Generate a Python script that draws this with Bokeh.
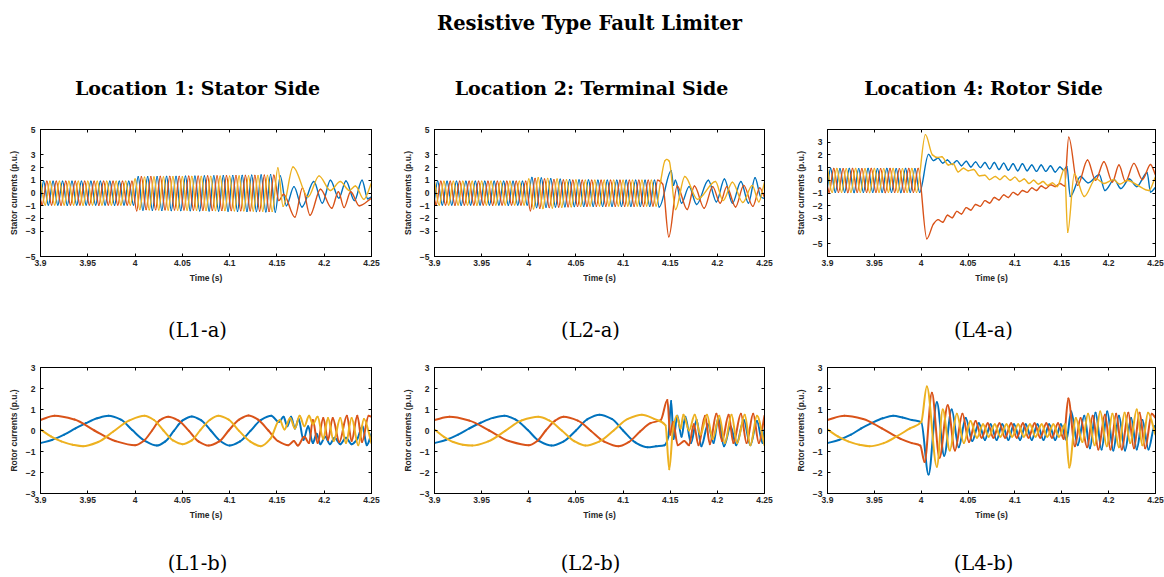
from bokeh.plotting import figure
from bokeh.layouts import column, row
from bokeh.models import Range1d, FixedTicker, LinearAxis, CustomJSTickFormatter
from bokeh.core.properties import value
from bokeh.embed import file_html
from bokeh.resources import INLINE

BLUE = "#0072BD"
ORANGE = "#D95319"
YELLOW = "#EDB120"

X_TICKS = [3.9, 3.95, 4.0, 4.05, 4.1, 4.15, 4.2, 4.25]
STATOR_Y_TICKS = [-5, -3, -2, -1, 0, 1, 2, 3, 5]
STATOR4_Y_TICKS = [-5, -3, -2, -1, 0, 1, 2, 3]
ROTOR_Y_TICKS = [-3, -2, -1, 0, 1, 2, 3]

MAIN_TITLE = "Resistive Type Fault Limiter"
COL_TITLES = ["Location 1: Stator Side", "Location 2: Terminal Side", "Location 4: Rotor Side"]
CAPTIONS_A = ["(L1-a)", "(L2-a)", "(L4-a)"]
CAPTIONS_B = ["(L1-b)", "(L2-b)", "(L4-b)"]

# ---- stator currents, common pre-fault part (3.90 - 4.00 s): extrema
PRE_Y_T = [3.900, 3.905, 3.910, 3.915, 3.920, 3.925, 3.930, 3.935, 3.940, 3.945,
           3.950, 3.955, 3.960, 3.965, 3.970, 3.975, 3.980, 3.985, 3.990, 3.995]
PRE_Y_V = [0.92, -0.95, 0.93, -0.95, 0.92, -0.95, 0.93, -0.95, 0.92, -0.96,
           0.93, -0.95, 0.92, -0.95, 0.93, -0.95, 0.92, -0.95, 0.93, -0.95]
PRE_B_T = [3.900, 3.9033, 3.9083, 3.9133, 3.9183, 3.9233, 3.9283, 3.9333, 3.9383, 3.9433,
           3.9483, 3.9533, 3.9583, 3.9633, 3.9683, 3.9733, 3.9783, 3.9833, 3.9883, 3.9933, 3.9983]
PRE_B_V = [-0.50, 0.93, -0.95, 0.92, -0.95, 0.93, -0.96, 0.92, -0.95, 0.93,
           -0.95, 0.92, -0.95, 0.93, -0.95, 0.92, -0.96, 0.93, -0.95, 0.92, -0.95]
PRE_O_T = [3.900, 3.9017, 3.9067, 3.9117, 3.9167, 3.9217, 3.9267, 3.9317, 3.9367, 3.9417,
           3.9467, 3.9517, 3.9567, 3.9617, 3.9667, 3.9717, 3.9767, 3.9817, 3.9867, 3.9917, 3.9967]
PRE_O_V = [-0.50, -0.95, 0.93, -0.95, 0.92, -0.96, 0.93, -0.95, 0.92, -0.95,
           0.93, -0.95, 0.92, -0.96, 0.93, -0.95, 0.92, -0.95, 0.93, -0.95, 0.93]

# ---- L1-a (stator currents, location 1) after 4.00 s
L1A_Y_T = [4.000, 4.005, 4.010, 4.015, 4.020, 4.025, 4.030, 4.035, 4.040, 4.045,
           4.050, 4.055, 4.060, 4.065, 4.070, 4.075, 4.080, 4.085, 4.090, 4.095,
           4.100, 4.105, 4.110, 4.115, 4.120, 4.125, 4.130, 4.135, 4.140, 4.145,
           4.151, 4.1565, 4.167, 4.183, 4.1945, 4.2065, 4.217, 4.2265, 4.233, 4.242, 4.250]
L1A_Y_V = [1.10, -1.30, 1.25, -1.32, 1.26, -1.33, 1.27, -1.34, 1.28, -1.35,
           1.28, -1.35, 1.30, -1.36, 1.30, -1.37, 1.31, -1.38, 1.32, -1.38,
           1.33, -1.40, 1.34, -1.40, 1.35, -1.42, 1.36, -1.43, 1.38, -1.45,
           1.97, -1.05, 2.05, -0.30, 1.35, 0.20, 0.90, 0.20, 0.55, -0.50, 0.80]
L1A_B_T = [4.0033, 4.0083, 4.0133, 4.0183, 4.0233, 4.0283, 4.0333, 4.0383, 4.0433, 4.0483,
           4.0533, 4.0583, 4.0633, 4.0683, 4.0733, 4.0783, 4.0833, 4.0883, 4.0933, 4.0983,
           4.1033, 4.1083, 4.1133, 4.1183, 4.1233, 4.1283, 4.1333, 4.1383, 4.1433, 4.1483,
           4.1535, 4.1600, 4.1680, 4.1765, 4.1890, 4.1980, 4.2065, 4.2155, 4.2230, 4.2320,
           4.2400, 4.2460, 4.2500]
L1A_B_V = [1.28, -1.35, 1.28, -1.36, 1.29, -1.37, 1.30, -1.38, 1.31, -1.38,
           1.32, -1.39, 1.33, -1.40, 1.34, -1.41, 1.35, -1.42, 1.36, -1.43,
           1.37, -1.44, 1.38, -1.45, 1.40, -1.46, 1.42, -1.48, 1.45, -1.50,
           1.35, -1.00, 0.50, -1.10, 0.90, -0.80, 1.00, -0.40, 0.95, -0.60,
           1.00, -0.45, -0.30]
L1A_O_T = [4.0017, 4.0067, 4.0117, 4.0167, 4.0217, 4.0267, 4.0317, 4.0367, 4.0417, 4.0467,
           4.0517, 4.0567, 4.0617, 4.0667, 4.0717, 4.0767, 4.0817, 4.0867, 4.0917, 4.0967,
           4.1017, 4.1067, 4.1117, 4.1167, 4.1217, 4.1267, 4.1317, 4.1367, 4.1417, 4.1467,
           4.1520, 4.1570, 4.1690, 4.1770, 4.1850, 4.1960, 4.2080, 4.2150, 4.2210, 4.2280,
           4.2370, 4.2500]
L1A_O_V = [-1.40, 1.28, -1.30, 1.29, -1.31, 1.30, -1.32, 1.31, -1.33, 1.31,
           -1.33, 1.32, -1.34, 1.33, -1.35, 1.34, -1.36, 1.35, -1.37, 1.36,
           -1.38, 1.37, -1.39, 1.38, -1.40, 1.39, -1.42, 1.40, -1.45, 1.40,
           -0.60, -0.10, -1.90, 0.40, -1.75, 0.30, -1.20, 0.10, -1.15, 0.10,
           -1.00, -0.40]

# ---- L2-a (stator currents, location 2) after 4.00 s
L2A_Y_T = [4.000, 4.005, 4.010, 4.015, 4.020, 4.025, 4.030, 4.035, 4.040, 4.045,
           4.050, 4.055, 4.060, 4.065, 4.070, 4.075, 4.080, 4.085, 4.090, 4.095,
           4.100, 4.105, 4.110, 4.115, 4.120, 4.125, 4.130, 4.135, 4.140,
           4.1445, 4.1465, 4.1490, 4.1556, 4.1655, 4.1790, 4.1980, 4.2060, 4.2160, 4.2270,
           4.2370, 4.2440, 4.2500]
L2A_Y_V = [1.10, -1.25, 1.20, -1.22, 1.15, -1.18, 1.10, -1.12, 1.05, -1.08,
           1.02, -1.05, 1.00, -1.03, 1.00, -1.02, 1.00, -1.02, 1.00, -1.02,
           1.00, -1.02, 1.00, -1.02, 1.00, -1.02, 1.00, -1.02, 1.00,
           2.55, 2.65, 2.50, -1.30, 1.30, -0.50, 0.90, -0.60, 0.85, -0.75,
           0.60, -0.70, 0.85]
L2A_B_T = [4.0033, 4.0083, 4.0133, 4.0183, 4.0233, 4.0283, 4.0333, 4.0383, 4.0433, 4.0483,
           4.0533, 4.0583, 4.0633, 4.0683, 4.0733, 4.0783, 4.0833, 4.0883, 4.0933, 4.0983,
           4.1033, 4.1083, 4.1133, 4.1183, 4.1233, 4.1283, 4.1333, 4.1383,
           4.1510, 4.1535, 4.1555, 4.1620, 4.1700, 4.1780, 4.1905, 4.1990, 4.2075, 4.2160,
           4.2250, 4.2330, 4.2400, 4.2460, 4.2500]
L2A_B_V = [1.22, -1.15, 1.18, -1.12, 1.12, -1.10, 1.08, -1.08, 1.05, -1.06,
           1.03, -1.05, 1.02, -1.05, 1.00, -1.05, 1.00, -1.05, 1.00, -1.05,
           1.00, -1.05, 1.00, -1.05, 1.00, -1.05, 1.00, -1.10,
           1.75, 0.60, 1.00, -0.80, 0.50, -0.90, 1.00, -0.70, 1.10, -0.80,
           0.90, -0.80, 1.20, -0.30, -0.45]
L2A_O_T = [4.0017, 4.0067, 4.0117, 4.0167, 4.0217, 4.0267, 4.0317, 4.0367, 4.0417, 4.0467,
           4.0517, 4.0567, 4.0617, 4.0667, 4.0717, 4.0767, 4.0817, 4.0867, 4.0917, 4.0967,
           4.1017, 4.1067, 4.1117, 4.1167, 4.1217, 4.1267, 4.1317, 4.1367,
           4.1420, 4.1485, 4.1574, 4.1680, 4.1757, 4.1860, 4.1950, 4.2030, 4.2100, 4.2193,
           4.2280, 4.2376, 4.2450, 4.2500]
L2A_O_V = [-1.40, 1.15, -1.20, 1.10, -1.15, 1.05, -1.10, 1.02, -1.08, 1.00,
           -1.05, 1.00, -1.05, 1.00, -1.04, 1.00, -1.04, 1.00, -1.04, 1.00,
           -1.04, 1.00, -1.04, 1.00, -1.04, 1.00, -1.03, 1.00,
           0.70, -3.45, 0.55, -1.30, 0.55, -1.20, 0.50, -0.80, 0.50, -1.10,
           0.60, -1.05, 0.40, -0.35]

# ---- L4-a (stator currents, location 4) after 4.00 s
L4A_Y_T = [4.0045, 4.0120, 4.0170, 4.0220, 4.0290, 4.0340, 4.0395, 4.0450, 4.0500, 4.0560,
           4.0620, 4.0680, 4.0730, 4.0790, 4.0840, 4.0890, 4.0950, 4.1000, 4.1050, 4.1100,
           4.1150, 4.1200, 4.1250, 4.1300, 4.1350, 4.1400, 4.1450, 4.1530, 4.1563, 4.1634,
           4.1740, 4.1864, 4.1950, 4.2050, 4.2120, 4.2200, 4.2300, 4.2430, 4.2500]
L4A_Y_V = [3.60, 2.00, 1.80, 1.85, 1.20, 1.30, 0.66, 0.95, 0.75, 0.85,
           0.35, 0.40, 0.05, 0.30, 0.05, 0.35, 0.00, 0.25, -0.10, 0.10,
           -0.25, 0.00, -0.30, -0.10, -0.40, -0.20, -0.50, 0.90, -4.10, 0.50,
           -1.27, 0.13, -0.25, 0.05, -0.30, 0.00, -0.35, -0.80, 0.30]
L4A_B_T = [4.0078, 4.0130, 4.0180, 4.0230, 4.0280, 4.0330, 4.0380, 4.0430, 4.0480, 4.0530,
           4.0580, 4.0630, 4.0680, 4.0730, 4.0780, 4.0830, 4.0880, 4.0930, 4.0980, 4.1030,
           4.1080, 4.1130, 4.1180, 4.1230, 4.1280, 4.1330, 4.1380, 4.1430, 4.1480, 4.1520,
           4.1555, 4.1590, 4.1700, 4.1780, 4.1900, 4.1960, 4.2060, 4.2130, 4.2220, 4.2300,
           4.2410, 4.2447, 4.2500]
L4A_B_V = [2.04, 1.55, 1.75, 1.35, 1.60, 1.25, 1.55, 1.15, 1.50, 1.05,
           1.45, 1.00, 1.40, 0.90, 1.40, 0.85, 1.35, 0.80, 1.30, 0.75,
           1.30, 0.75, 1.20, 0.70, 1.20, 0.70, 1.15, 0.65, 1.05, 0.80,
           1.10, -1.27, 0.30, -0.20, 0.45, -0.80, 0.05, -0.65, 0.10, -0.50,
           0.60, -0.93, -0.55]
L4A_O_T = [4.0060, 4.0130, 4.0180, 4.0230, 4.0280, 4.0330, 4.0380, 4.0430, 4.0480, 4.0530,
           4.0580, 4.0630, 4.0680, 4.0730, 4.0780, 4.0830, 4.0880, 4.0930, 4.0980, 4.1030,
           4.1080, 4.1130, 4.1180, 4.1230, 4.1280, 4.1330, 4.1380, 4.1430, 4.1480, 4.1530,
           4.1574, 4.1670, 4.1775, 4.1860, 4.1950, 4.2040, 4.2110, 4.2180, 4.2270, 4.2360,
           4.2447, 4.2500]
L4A_O_V = [-4.60, -3.45, -3.10, -3.30, -2.75, -2.95, -2.45, -2.65, -2.15, -2.35,
           -1.90, -2.05, -1.60, -1.80, -1.35, -1.55, -1.15, -1.35, -0.95, -1.15,
           -0.80, -0.95, -0.60, -0.80, -0.45, -0.65, -0.35, -0.50, -0.25, -0.45,
           3.40, -0.40, 1.60, 0.00, 1.46, -0.13, 1.20, -0.10, 1.33, 0.05,
           1.25, 0.40]

# ---- L1-b (rotor currents, location 1)
L1B_B_T = [3.900, 3.912, 3.925, 3.937, 3.948, 3.960, 3.972, 3.985, 3.997, 4.010,
           4.023, 4.032, 4.041, 4.050, 4.060, 4.070, 4.080, 4.090, 4.100, 4.111,
           4.122, 4.133, 4.144, 4.1520, 4.1570, 4.1610, 4.1650, 4.1690, 4.1730, 4.1780,
           4.1830, 4.1880, 4.1920, 4.1960, 4.2010, 4.2060, 4.2110, 4.2170, 4.2230, 4.2290,
           4.2350, 4.2405, 4.2450, 4.2500]
L1B_B_V = [-0.60, -0.45, -0.20, 0.10, 0.35, 0.58, 0.70, 0.52, 0.02, -0.48,
           -0.72, -0.52, -0.02, 0.47, 0.67, 0.48, 0.00, -0.50, -0.72, -0.52,
           -0.02, 0.50, 0.70, 0.40, 0.65, 0.20, 0.65, 0.10, 0.55, -0.45,
           0.20, -0.60, -0.15, -0.65, -0.30, -0.65, -0.35, -0.65, -0.35, -0.65,
           -0.40, 0.20, -0.70, -0.15]
L1B_O_T = [3.900, 3.915, 3.936, 3.957, 3.979, 4.000, 4.009, 4.018, 4.026, 4.035,
           4.046, 4.057, 4.067, 4.078, 4.089, 4.099, 4.110, 4.120, 4.130, 4.141,
           4.151, 4.162, 4.1680, 4.1720, 4.1790, 4.1840, 4.1880, 4.1930, 4.1990, 4.2040,
           4.2090, 4.2160, 4.2240, 4.2290, 4.2350, 4.2400, 4.2470, 4.2500]
L1B_O_V = [0.50, 0.70, 0.52, 0.00, -0.50, -0.70, -0.50, 0.00, 0.48, 0.65,
           0.47, -0.02, -0.52, -0.72, -0.52, 0.00, 0.52, 0.72, 0.52, 0.00,
           -0.50, -0.70, -0.50, -0.72, -0.30, -0.60, 0.50, -0.60, 0.60, -0.45,
           0.60, -0.55, 0.70, -0.50, 0.70, -0.55, 0.70, 0.65]
L1B_Y_T = [3.900, 3.911, 3.922, 3.934, 3.945, 3.961, 3.977, 3.994, 4.010, 4.020,
           4.030, 4.040, 4.050, 4.060, 4.069, 4.079, 4.088, 4.099, 4.110, 4.122,
           4.133, 4.143, 4.1530, 4.1580, 4.1640, 4.1690, 4.1740, 4.1790, 4.1840, 4.1880,
           4.1930, 4.1990, 4.2040, 4.2100, 4.2170, 4.2230, 4.2290, 4.2360, 4.2420, 4.2500]
L1B_Y_V = [0.05, -0.28, -0.52, -0.68, -0.75, -0.55, -0.05, 0.48, 0.70, 0.50,
           0.00, -0.47, -0.65, -0.47, 0.02, 0.50, 0.70, 0.52, -0.02, -0.53,
           -0.75, -0.40, 0.50, 0.05, 0.60, 0.10, 0.70, 0.20, 0.70, 0.30,
           0.65, -0.40, 0.60, -0.50, 0.60, -0.60, 0.60, -0.70, 0.55, -0.60]

# ---- L2-b (rotor currents, location 2)
L2B_B_T = [3.900, 3.912, 3.925, 3.937, 3.949, 3.962, 3.974, 3.986, 3.999, 4.011,
           4.024, 4.037, 4.050, 4.062, 4.075, 4.088, 4.100, 4.113, 4.126, 4.135,
           4.1440, 4.1480, 4.1510, 4.1535, 4.1575, 4.1620, 4.1660, 4.1720, 4.1780, 4.1830,
           4.1900, 4.1960, 4.2010, 4.2070, 4.2140, 4.2200, 4.2280, 4.2350, 4.2420, 4.2480,
           4.2500]
L2B_B_V = [-0.60, -0.45, -0.20, 0.10, 0.37, 0.60, 0.70, 0.52, 0.02, -0.50,
           -0.72, -0.52, 0.00, 0.53, 0.75, 0.55, 0.00, -0.57, -0.80, -0.75,
           -0.70, -0.30, 1.40, -0.40, 0.70, -0.30, 0.65, -0.60, 0.50, -0.75,
           0.30, -0.60, 0.60, -0.75, 0.20, -0.70, 0.50, -0.70, 0.45, -0.60,
           0.05]
L2B_O_T = [3.900, 3.916, 3.937, 3.958, 3.979, 4.000, 4.009, 4.018, 4.028, 4.037,
           4.052, 4.066, 4.080, 4.095, 4.106, 4.118, 4.129, 4.140, 4.1470, 4.1500,
           4.1530, 4.1580, 4.1650, 4.1700, 4.1750, 4.1800, 4.1870, 4.1920, 4.1990, 4.2050,
           4.2120, 4.2170, 4.2250, 4.2310, 4.2380, 4.2440, 4.2500]
L2B_O_V = [0.50, 0.65, 0.47, 0.00, -0.50, -0.70, -0.50, 0.00, 0.47, 0.65,
           0.47, -0.02, -0.53, -0.75, -0.55, -0.05, 0.35, 0.50, 1.45, -0.20,
           0.40, -0.70, -0.50, -0.70, 0.30, -0.70, 0.70, -0.65, 0.80, -0.50,
           0.75, -0.60, 0.80, -0.60, 0.80, -0.60, 0.70]
L2B_Y_T = [3.900, 3.910, 3.920, 3.930, 3.940, 3.957, 3.975, 3.992, 4.010, 4.022,
           4.035, 4.048, 4.060, 4.075, 4.090, 4.105, 4.120, 4.133, 4.1450, 4.1490,
           4.1530, 4.1570, 4.1610, 4.1640, 4.1700, 4.1760, 4.1820, 4.1890, 4.1950, 4.2020,
           4.2080, 4.2150, 4.2210, 4.2290, 4.2350, 4.2420, 4.2500]
L2B_Y_V = [0.05, -0.30, -0.55, -0.68, -0.72, -0.52, -0.02, 0.47, 0.65, 0.47,
           0.00, -0.50, -0.72, -0.52, 0.00, 0.55, 0.75, 0.55, 0.25, -1.85,
           0.10, 0.70, 0.10, 0.75, 0.00, 0.75, -0.20, 0.75, -0.40, 0.70,
           -0.60, 0.75, -0.60, 0.75, -0.70, 0.70, -0.70]

# ---- L4-b (rotor currents, location 4)
L4B_B_T = [3.900, 3.912, 3.925, 3.936, 3.947, 3.959, 3.970, 3.980, 3.990, 4.000,
           4.0078, 4.0167, 4.0245, 4.0325, 4.0400, 4.0475, 4.0545, 4.0615, 4.0680, 4.0740,
           4.0805, 4.0865, 4.0930, 4.0990, 4.1055, 4.1115, 4.1180, 4.1240, 4.1305, 4.1365,
           4.1430, 4.1490, 4.1550, 4.1600, 4.1670, 4.1740, 4.1800, 4.1860, 4.1925, 4.1985,
           4.2050, 4.2110, 4.2175, 4.2240, 4.2300, 4.2360, 4.2425, 4.2490, 4.2500]
L4B_B_V = [-0.60, -0.45, -0.20, 0.10, 0.35, 0.58, 0.70, 0.62, 0.50, 0.40,
           -2.10, 1.35, -1.20, 1.00, -0.80, 0.60, -0.50, 0.35, -0.45, 0.30,
           -0.45, 0.30, -0.45, 0.30, -0.45, 0.30, -0.45, 0.30, -0.45, 0.30,
           -0.45, 0.30, -0.45, 0.90, -0.70, 0.70, -0.85, 0.85, -0.90, 0.90,
           -0.95, 0.70, -0.95, 0.60, -0.90, 0.50, -0.90, 0.20, 0.10]
L4B_O_T = [3.900, 3.918, 3.938, 3.958, 3.978, 3.990, 3.999, 4.0036, 4.0114, 4.0195,
           4.0283, 4.0360, 4.0440, 4.0510, 4.0580, 4.0645, 4.0710, 4.0770, 4.0835, 4.0895,
           4.0960, 4.1020, 4.1085, 4.1145, 4.1210, 4.1270, 4.1335, 4.1395, 4.1460, 4.1520,
           4.1570, 4.1640, 4.1700, 4.1770, 4.1830, 4.1890, 4.1960, 4.2020, 4.2080, 4.2140,
           4.2210, 4.2270, 4.2330, 4.2390, 4.2460, 4.2500]
L4B_O_V = [0.50, 0.70, 0.55, 0.10, -0.40, -0.60, -0.72, -1.50, 1.80, -1.30,
           1.20, -0.95, 0.80, -0.55, 0.45, -0.35, 0.35, -0.35, 0.35, -0.35,
           0.35, -0.35, 0.35, -0.35, 0.35, -0.35, 0.35, -0.35, 0.35, -0.40,
           1.52, -0.75, 0.60, -0.80, 0.70, -0.90, 0.75, -0.90, 0.80, -0.90,
           0.85, -0.85, 0.85, -0.85, 0.80, 0.60]
L4B_Y_T = [3.900, 3.911, 3.922, 3.934, 3.945, 3.960, 3.975, 3.988, 4.000, 4.0060,
           4.0167, 4.0230, 4.0305, 4.0380, 4.0455, 4.0525, 4.0595, 4.0660, 4.0720, 4.0785,
           4.0845, 4.0910, 4.0970, 4.1035, 4.1095, 4.1160, 4.1220, 4.1285, 4.1345, 4.1410,
           4.1470, 4.1535, 4.1580, 4.1650, 4.1720, 4.1780, 4.1850, 4.1910, 4.1980, 4.2040,
           4.2110, 4.2170, 4.2230, 4.2300, 4.2360, 4.2420, 4.2500]
L4B_Y_V = [0.05, -0.28, -0.52, -0.68, -0.75, -0.60, -0.25, 0.10, 0.40, 2.10,
           -1.73, 1.00, -0.95, 0.80, -0.60, 0.45, -0.35, 0.30, -0.30, 0.30,
           -0.30, 0.30, -0.30, 0.30, -0.30, 0.30, -0.30, 0.30, -0.30, 0.30,
           -0.30, 0.30, -1.76, 0.60, -0.55, 0.80, -0.70, 0.90, -0.75, 0.80,
           -0.80, 0.85, -0.60, 1.00, -0.70, 0.85, -0.20]

STATOR_SERIES = [
    ((PRE_B_T + L1A_B_T, PRE_B_V + L1A_B_V), (PRE_O_T + L1A_O_T, PRE_O_V + L1A_O_V), (PRE_Y_T + L1A_Y_T, PRE_Y_V + L1A_Y_V)),
    ((PRE_B_T + L2A_B_T, PRE_B_V + L2A_B_V), (PRE_O_T + L2A_O_T, PRE_O_V + L2A_O_V), (PRE_Y_T + L2A_Y_T, PRE_Y_V + L2A_Y_V)),
    ((PRE_B_T + L4A_B_T, PRE_B_V + L4A_B_V), (PRE_O_T + L4A_O_T, PRE_O_V + L4A_O_V), (PRE_Y_T + L4A_Y_T, PRE_Y_V + L4A_Y_V)),
]
ROTOR_SERIES = [
    ((L1B_B_T, L1B_B_V), (L1B_O_T, L1B_O_V), (L1B_Y_T, L1B_Y_V)),
    ((L2B_B_T, L2B_B_V), (L2B_O_T, L2B_O_V), (L2B_Y_T, L2B_Y_V)),
    ((L4B_B_T, L4B_B_V), (L4B_O_T, L4B_O_V), (L4B_Y_T, L4B_Y_V)),
]

AX_FONT = "Liberation Sans"
SERIF = "DejaVu Serif"
TXT = "#262626"

X_FMT = CustomJSTickFormatter(code=r"""
var s = tick.toFixed(2);
s = s.replace(/0+$/, '');
s = s.replace(/\.$/, '');
return s;
""")


def smooth_segments(t, v):
    """Monotone cubic (Fritsch-Carlson) curve through the read points, as Bezier segments."""
    n = len(t)
    h = [t[k + 1] - t[k] for k in range(n - 1)]
    d = [(v[k + 1] - v[k]) / h[k] for k in range(n - 1)]
    m = [0.0] * n
    m[0] = d[0]
    m[-1] = d[-1]
    for k in range(1, n - 1):
        if d[k - 1] * d[k] <= 0:
            m[k] = 0.0
        else:
            w1 = 2 * h[k] + h[k - 1]
            w2 = h[k] + 2 * h[k - 1]
            m[k] = (w1 + w2) / (w1 / d[k - 1] + w2 / d[k])
    seg = dict(x0=[], y0=[], x1=[], y1=[], cx0=[], cy0=[], cx1=[], cy1=[])
    for k in range(n - 1):
        seg["x0"].append(t[k])
        seg["y0"].append(v[k])
        seg["x1"].append(t[k + 1])
        seg["y1"].append(v[k + 1])
        seg["cx0"].append(t[k] + h[k] / 3)
        seg["cy0"].append(v[k] + m[k] * h[k] / 3)
        seg["cx1"].append(t[k + 1] - h[k] / 3)
        seg["cy1"].append(v[k + 1] - m[k + 1] * h[k] / 3)
    return seg


def panel(series, y_range, y_ticks, y_label, frame_w, frame_h, bl, br, bt, bb, lw):
    p = figure(frame_width=frame_w, frame_height=frame_h,
               x_range=Range1d(3.9, 4.25), y_range=Range1d(*y_range),
               toolbar_location=None, output_backend="svg",
               min_border_left=bl, min_border_right=br,
               min_border_top=bt, min_border_bottom=bb)
    p.grid.visible = False
    p.outline_line_color = "black"
    p.background_fill_color = "white"
    p.border_fill_color = "white"
    xa = p.xaxis[0]
    xa.ticker = FixedTicker(ticks=X_TICKS)
    xa.formatter = X_FMT
    xa.axis_label = "Time (s)"
    ya = p.yaxis[0]
    ya.ticker = FixedTicker(ticks=y_ticks)
    ya.axis_label = y_label
    for ax in (xa, ya):
        ax.major_tick_in = 3
        ax.major_tick_out = 0
        ax.minor_tick_line_color = None
        ax.axis_line_color = "black"
        ax.major_tick_line_color = "black"
        ax.major_label_text_font = AX_FONT
        ax.major_label_text_font_style = "bold"
        ax.major_label_text_font_size = "8.5px"
        ax.major_label_text_color = TXT
        ax.axis_label_text_font = AX_FONT
        ax.axis_label_text_font_style = "bold"
        ax.axis_label_text_font_size = "8.5px"
        ax.axis_label_text_color = TXT
    ya.major_label_standoff = 5
    ya.axis_label_standoff = 4
    xa.major_label_standoff = 3
    xa.axis_label_standoff = 4
    for loc, tk in (("right", y_ticks), ("above", X_TICKS)):
        ax = LinearAxis(ticker=FixedTicker(ticks=tk), major_label_text_font_size="1px",
                        major_label_text_color=None,
                        major_tick_in=3, major_tick_out=0, minor_tick_line_color=None,
                        major_label_standoff=0, axis_line_color="black")
        p.add_layout(ax, loc)
    colors = (BLUE, ORANGE, YELLOW)
    for (t, v), c in zip(series, colors):
        seg = smooth_segments(t, v)
        p.bezier(line_color=c, line_width=lw, line_cap="round", **seg)
    return p


def strip(w, h, x0, y0, xs, ys, texts, size, style):
    p = figure(width=w, height=h, x_range=Range1d(x0, x0 + w), y_range=Range1d(y0 + h, y0),
               toolbar_location=None, output_backend="svg", min_border=0,
               x_axis_location=None, y_axis_location=None)
    p.outline_line_color = None
    p.grid.visible = False
    p.text(x=xs, y=ys, text=texts, text_font=value(SERIF), text_font_size=size,
           text_font_style=style, text_align="center", text_baseline="middle",
           text_color="black")
    return p


TOTAL_W = 1164
s1a = strip(TOTAL_W, 50, 0, 0, [589], [23], [MAIN_TITLE], "19.5px", "bold")
s1b = strip(TOTAL_W, 65, 0, 50, [197, 591, 983], [87, 87, 87], COL_TITLES, "19px", "bold")
s2 = strip(TOTAL_W, 60, 0, 292, [197, 590, 983], [330, 330, 330], CAPTIONS_A, "19.5px", "normal")
s3 = strip(TOTAL_W, 46, 0, 530, [197, 590, 983], [563, 563, 563], CAPTIONS_B, "19.5px", "normal")

# (frame width, left border, right border) per column
geo = [(331, 40, 23), (330, 40, 23), (328, 40, 9)]
y_ranges_a = [(-5, 5), (-5, 5), (-6, 4)]
y_ticks_a = [STATOR_Y_TICKS, STATOR_Y_TICKS, STATOR4_Y_TICKS]

top = []
bot = []
for i in range(3):
    fw, bl, br = geo[i]
    top.append(panel(STATOR_SERIES[i], y_ranges_a[i], y_ticks_a[i], "Stator currents (p.u.)",
                     fw, 127, bl, br, 14, 36, 1.4))
    bot.append(panel(ROTOR_SERIES[i], (-3, 3), ROTOR_Y_TICKS, "Rotor currents (p.u.)",
                     fw, 126, bl, br, 15, 37, 2.0))

layout = column(s1a, s1b, row(*top), s2, row(*bot), s3)

open("out.html", "w").write(file_html(layout, INLINE))
